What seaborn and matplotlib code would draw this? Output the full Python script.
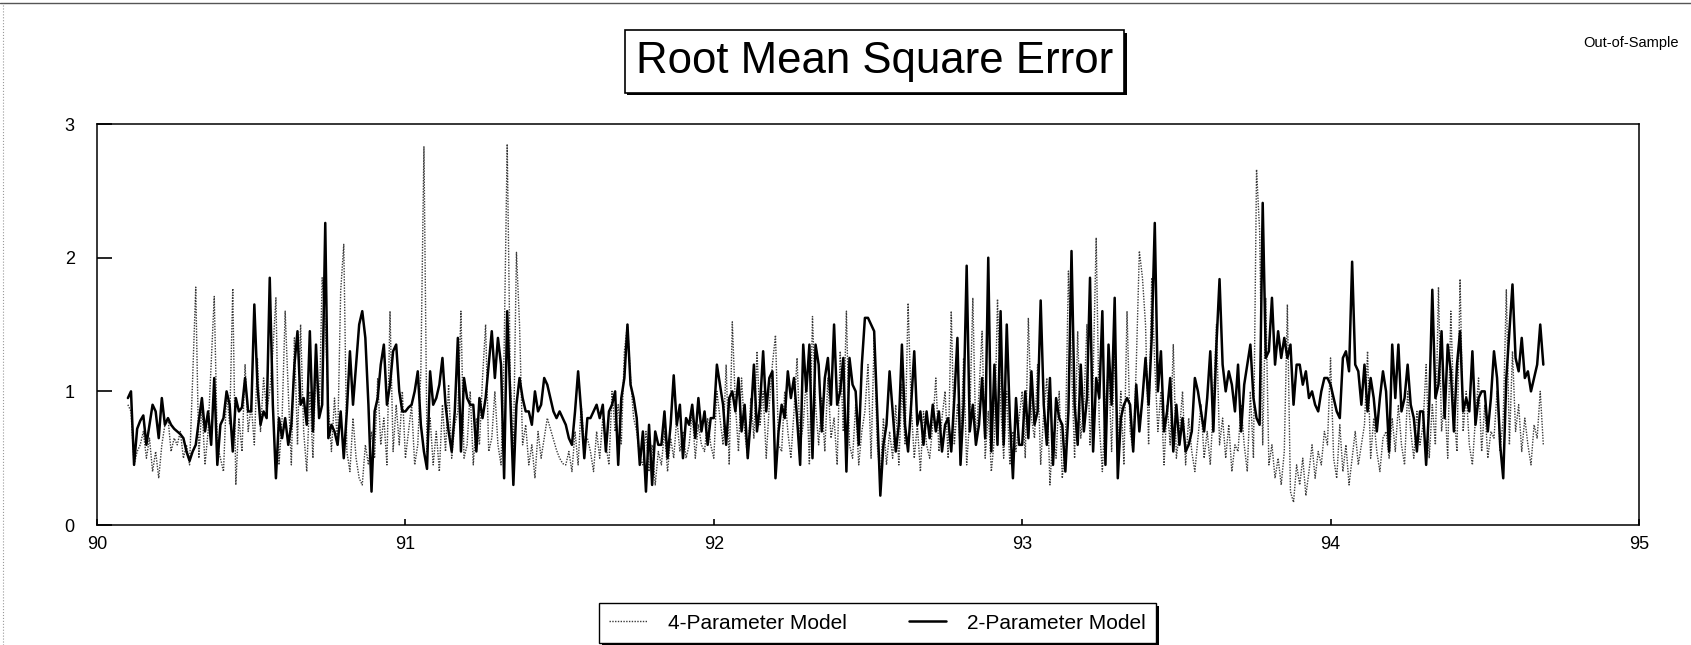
import numpy as np
import pandas as pd
import matplotlib
matplotlib.use("Agg")
import matplotlib.pyplot as plt
import matplotlib.patheffects as pe
from matplotlib.lines import Line2D
import seaborn as sns

# ==========================================
# Data (one value per 0.01 year, from 90.10)
# ==========================================

start_year = 90.10
step = 0.01

four_param = [
    0.90, 0.85, 0.45, 0.55, 0.60, 0.70, 0.50, 0.65, 0.40, 0.55,
    0.35, 0.60, 0.75, 0.80, 0.55, 0.65, 0.60, 0.70, 0.50, 0.60,
    0.45, 1.10, 1.78, 0.50, 0.90, 0.45, 0.70, 1.20, 1.71, 0.60,
    0.50, 0.40, 1.00, 0.75, 1.77, 0.30, 0.80, 0.55, 1.20, 0.70,
    0.90, 0.60, 1.25, 0.70, 1.10, 0.85, 1.00, 1.30, 1.70, 0.45,
    0.80, 1.60, 1.00, 0.45, 1.40, 0.60, 1.50, 0.70, 0.40, 1.00,
    0.50, 1.20, 0.80, 1.85, 1.50, 0.90, 0.55, 0.95, 0.60, 1.75,
    2.10, 0.55, 0.40, 0.80, 0.50, 0.35, 0.30, 0.60, 0.45, 0.70,
    0.50, 1.10, 0.60, 0.80, 0.45, 1.60, 0.55, 0.90, 0.60, 1.00,
    0.50, 0.70, 0.90, 0.45, 0.60, 1.15, 2.83, 0.55, 0.80, 0.45,
    0.70, 0.40, 0.90, 0.55, 1.05, 0.50, 0.75, 0.85, 1.60, 0.50,
    0.60, 1.00, 0.45, 0.80, 0.60, 1.10, 1.50, 0.55, 0.65, 1.00,
    0.60, 0.45, 1.30, 2.85, 1.10, 0.55, 2.04, 1.50, 0.60, 0.75,
    0.45, 0.60, 0.35, 0.70, 0.50, 0.65, 0.80, 0.72, 0.64, 0.56,
    0.50, 0.46, 0.45, 0.55, 0.40, 0.70, 0.45, 0.90, 0.60, 0.65,
    0.55, 0.40, 0.70, 0.50, 0.80, 0.60, 0.45, 1.00, 0.70, 0.90,
    0.60, 1.30, 1.50, 1.10, 0.80, 0.70, 0.50, 0.45, 0.70, 0.40,
    0.60, 0.30, 0.55, 0.45, 0.70, 0.40, 0.65, 0.50, 0.80, 0.55,
    0.70, 0.50, 0.60, 0.85, 0.50, 0.75, 0.60, 0.55, 0.80, 0.60,
    0.50, 1.00, 0.80, 0.60, 1.20, 0.45, 1.52, 0.90, 0.55, 1.10,
    0.70, 0.50, 0.95, 0.65, 1.30, 0.75, 1.00, 0.50, 0.90, 1.20,
    1.42, 0.60, 0.55, 1.00, 0.70, 0.50, 0.85, 1.25, 0.60, 0.75,
    1.10, 0.45, 1.56, 0.90, 0.60, 0.95, 0.55, 1.10, 0.65, 0.80,
    0.45, 1.30, 0.70, 1.60, 0.60, 0.50, 0.90, 0.45, 0.70, 0.85,
    1.20, 0.50, 1.40, 0.60, 0.35, 0.80, 0.45, 0.70, 0.50, 0.90,
    0.45, 1.05, 0.60, 1.66, 0.90, 0.50, 0.75, 0.40, 0.85, 0.60,
    0.50, 0.75, 1.10, 0.55, 0.80, 1.00, 0.50, 1.60, 0.60, 0.90,
    0.55, 1.25, 0.45, 0.80, 1.70, 0.60, 1.00, 1.45, 0.50, 0.85,
    0.40, 0.65, 1.69, 0.90, 0.50, 1.00, 0.45, 0.70, 0.55, 0.80,
    1.00, 0.50, 1.55, 0.80, 0.65, 1.20, 0.45, 0.85, 1.10, 0.30,
    0.70, 0.50, 1.00, 0.35, 0.60, 1.90, 1.20, 0.50, 1.45, 0.65,
    0.90, 1.50, 0.60, 1.10, 2.15, 0.75, 0.40, 0.90, 1.20, 0.55,
    1.30, 0.60, 1.00, 0.45, 1.60, 0.70, 0.55, 1.20, 2.05, 1.85,
    1.50, 0.60, 1.85, 1.20, 0.70, 1.00, 0.45, 0.90, 0.60, 1.35,
    0.50, 0.70, 1.00, 0.45, 0.80, 0.55, 0.40, 0.65, 0.90, 0.50,
    0.70, 0.45, 0.90, 1.50, 0.60, 0.80, 0.50, 0.75, 0.40, 0.60,
    0.55, 0.90, 0.60, 0.40, 1.00, 0.50, 2.66, 2.20, 0.60, 1.70,
    0.45, 0.60, 0.35, 0.50, 0.30, 0.55, 1.65, 0.25, 0.17, 0.45,
    0.30, 0.50, 0.22, 0.40, 0.60, 0.35, 0.55, 0.45, 0.70, 0.60,
    1.25, 0.50, 0.35, 0.75, 0.40, 0.60, 0.30, 0.50, 0.70, 0.45,
    0.60, 0.75, 1.30, 0.50, 0.80, 0.55, 0.40, 0.65, 0.70, 0.50,
    0.80, 0.55, 0.90, 0.60, 0.45, 1.00, 0.70, 0.50, 0.85, 0.60,
    0.75, 1.20, 0.50, 0.90, 0.60, 1.78, 0.70, 0.95, 0.50, 1.60,
    0.85, 0.55, 1.84, 0.70, 1.00, 0.60, 0.45, 0.80, 1.10, 0.55,
    0.90, 0.50, 0.70, 0.65, 1.00, 0.55, 0.80, 1.76, 0.60, 1.30,
    0.70, 0.90, 0.55, 0.80, 0.60, 0.45, 0.75, 0.65, 1.00, 0.60,
]

two_param = [
    0.95, 1.00, 0.45, 0.72, 0.78, 0.82, 0.60, 0.75, 0.90, 0.85,
    0.65, 0.95, 0.75, 0.80, 0.75, 0.72, 0.70, 0.68, 0.65, 0.55,
    0.48, 0.55, 0.60, 0.78, 0.95, 0.70, 0.85, 0.60, 1.10, 0.45,
    0.75, 0.80, 1.00, 0.90, 0.55, 0.95, 0.85, 0.88, 1.10, 0.85,
    0.85, 1.65, 1.05, 0.75, 0.85, 0.80, 1.85, 0.90, 0.35, 0.80,
    0.65, 0.80, 0.60, 0.75, 1.20, 1.45, 0.90, 0.95, 0.75, 1.45,
    0.70, 1.35, 0.80, 0.90, 2.26, 0.65, 0.75, 0.70, 0.60, 0.85,
    0.50, 0.85, 1.30, 0.90, 1.20, 1.50, 1.60, 1.40, 0.90, 0.25,
    0.85, 0.95, 1.20, 1.35, 0.90, 1.05, 1.30, 1.35, 1.00, 0.85,
    0.85, 0.88, 0.90, 1.00, 1.15, 0.75, 0.55, 0.42, 1.15, 0.90,
    0.95, 1.05, 1.25, 0.90, 0.70, 0.55, 0.85, 1.40, 0.55, 1.10,
    0.95, 0.90, 0.90, 0.55, 0.95, 0.80, 0.95, 1.20, 1.45, 1.10,
    1.40, 1.20, 0.35, 1.60, 0.95, 0.30, 0.90, 1.10, 0.95, 0.85,
    0.85, 0.75, 1.00, 0.85, 0.90, 1.10, 1.05, 0.95, 0.85, 0.80,
    0.85, 0.80, 0.75, 0.65, 0.60, 0.85, 1.15, 0.85, 0.50, 0.80,
    0.80, 0.85, 0.90, 0.80, 0.90, 0.55, 0.85, 0.90, 1.00, 0.45,
    0.95, 1.10, 1.50, 1.05, 0.95, 0.80, 0.45, 0.70, 0.25, 0.75,
    0.30, 0.70, 0.60, 0.60, 0.85, 0.50, 0.75, 1.12, 0.75, 0.90,
    0.50, 0.80, 0.75, 0.90, 0.65, 0.95, 0.70, 0.85, 0.60, 0.80,
    0.80, 1.20, 1.05, 0.90, 0.60, 0.95, 1.00, 0.85, 1.10, 0.70,
    0.90, 0.50, 0.80, 1.20, 0.70, 0.90, 1.30, 0.85, 1.10, 1.15,
    0.35, 0.70, 0.90, 0.80, 1.15, 0.95, 1.10, 0.80, 0.45, 1.35,
    1.00, 1.35, 0.50, 1.35, 1.20, 0.70, 1.10, 1.25, 0.90, 1.50,
    0.90, 1.00, 1.25, 0.40, 1.25, 1.05, 1.00, 0.60, 1.20, 1.55,
    1.55, 1.50, 1.45, 0.85, 0.22, 0.60, 0.75, 1.15, 0.85, 0.55,
    0.75, 1.35, 0.75, 0.55, 0.90, 1.30, 0.75, 0.85, 0.60, 0.85,
    0.65, 0.90, 0.70, 0.85, 0.55, 0.75, 0.80, 0.55, 0.95, 1.40,
    0.45, 0.90, 1.94, 0.70, 0.90, 0.60, 0.75, 1.10, 0.65, 2.00,
    0.55, 1.20, 0.60, 1.60, 0.60, 1.50, 0.80, 0.35, 0.95, 0.60,
    0.60, 1.00, 0.65, 1.15, 0.75, 0.85, 1.68, 0.90, 0.60, 1.10,
    0.45, 0.95, 0.80, 0.75, 0.40, 0.85, 2.05, 0.90, 0.60, 1.20,
    0.70, 0.95, 1.85, 0.55, 1.10, 0.95, 1.60, 0.45, 1.35, 0.90,
    1.70, 0.35, 0.80, 0.90, 0.95, 0.90, 0.55, 1.05, 0.70, 0.95,
    1.25, 0.90, 1.40, 2.26, 1.00, 1.30, 0.70, 0.85, 1.10, 0.55,
    0.90, 0.60, 0.80, 0.55, 0.60, 0.70, 1.10, 1.00, 0.85, 0.70,
    0.95, 1.30, 0.70, 1.35, 1.84, 1.20, 1.00, 1.15, 1.05, 0.85,
    1.20, 0.70, 1.05, 1.20, 1.35, 0.95, 0.80, 0.75, 2.41, 1.25,
    1.30, 1.70, 1.20, 1.45, 1.25, 1.40, 1.25, 1.35, 0.90, 1.20,
    1.20, 1.05, 1.15, 0.95, 1.00, 0.90, 0.85, 1.00, 1.10, 1.10,
    1.05, 0.95, 0.85, 0.80, 1.25, 1.30, 1.15, 1.97, 1.20, 1.15,
    0.90, 1.20, 0.85, 1.10, 0.95, 0.70, 0.95, 1.15, 1.00, 0.55,
    1.35, 0.95, 1.35, 0.85, 0.95, 1.20, 0.90, 0.80, 0.55, 0.85,
    0.85, 0.45, 0.90, 1.76, 0.95, 1.05, 1.45, 0.80, 1.35, 1.15,
    0.70, 1.20, 1.45, 0.85, 0.95, 0.85, 1.30, 0.75, 0.95, 1.00,
    1.00, 0.70, 0.95, 1.30, 1.10, 0.60, 0.35, 1.10, 1.45, 1.80,
    1.25, 1.15, 1.40, 1.10, 1.15, 1.00, 1.10, 1.20, 1.50, 1.20,
]

x_ticks = [90, 91, 92, 93, 94, 95]
y_ticks = [0, 1, 2, 3]
labels = ["4-Parameter Model", "2-Parameter Model"]

df4 = pd.DataFrame({"year": start_year + step * np.arange(len(four_param)),
                    "rmse": four_param})
df2 = pd.DataFrame({"year": start_year + step * np.arange(len(two_param)),
                    "rmse": two_param})

# ==========================================
# Plot
# ==========================================

sns.set_style("white")
plt.rcParams['font.family'] = ['Liberation Sans', 'DejaVu Sans']
plt.rcParams['text.color'] = 'black'

fig = plt.figure(figsize=(16.91, 6.45), dpi=100)
ax = fig.add_axes([0.0574, 0.186, 0.9118, 0.6217])

sns.lineplot(data=df4, x="year", y="rmse", ax=ax, color="#3a3a3a",
             linewidth=1.0, linestyle=(0, (1, 1)), label=labels[0])
sns.lineplot(data=df2, x="year", y="rmse", ax=ax, color="black",
             linewidth=1.8, label=labels[1])

ax.set_xlim(90, 95)
ax.set_ylim(0, 3)
ax.set_xticks(x_ticks)
ax.set_yticks(y_ticks)
ax.set_xlabel("")
ax.set_ylabel("")
ax.tick_params(axis="y", left=True, direction="in", length=11, width=1.2,
               labelsize=13, pad=16, colors="black")
ax.tick_params(axis="x", bottom=True, direction="in", length=4, width=1.2,
               labelsize=13, pad=8, colors="black")
for s in ax.spines.values():
    s.set_color("black")
    s.set_linewidth(1.1)

handles, lbls = ax.get_legend_handles_labels()
ax.get_legend().remove()
leg = fig.legend(handles, lbls, loc="lower center", bbox_to_anchor=(0.519, 0.003),
                 ncol=2, frameon=True, fancybox=False, shadow=False,
                 facecolor="white", framealpha=1.0,
                 edgecolor="black", fontsize=15, handlelength=1.8,
                 columnspacing=3.0, borderpad=0.5, handletextpad=1.0,
                 borderaxespad=0.0)
for t in leg.get_texts():
    t.set_color("black")
leg.get_frame().set_linewidth(1.0)
leg.get_frame().set_path_effects([
    pe.SimplePatchShadow(offset=(2, -2), shadow_rgbFace="black", alpha=1.0),
    pe.Normal()])

# title in a box with a hard shadow
title = fig.text(0.517, 0.905, "Root Mean Square Error", ha="center", va="center",
                 fontsize=31.5, color="black",
                 bbox=dict(boxstyle="square,pad=0.25", facecolor="white",
                           edgecolor="black", linewidth=1.2))
title.get_bbox_patch().set_path_effects([
    pe.SimplePatchShadow(offset=(2, -2), shadow_rgbFace="black", alpha=1.0),
    pe.Normal()])
fig.text(0.993, 0.933, "Out-of-Sample", ha="right", va="center", fontsize=10.5,
         color="black")

# page edge lines
fig.add_artist(Line2D([0, 1], [0.996, 0.996], transform=fig.transFigure,
                      color="#555555", linewidth=1))
fig.add_artist(Line2D([0.002, 0.002], [0.0, 0.996], transform=fig.transFigure,
                      color="#999999", linewidth=0.8, linestyle=":"))

plt.savefig("out.png", dpi=100)
